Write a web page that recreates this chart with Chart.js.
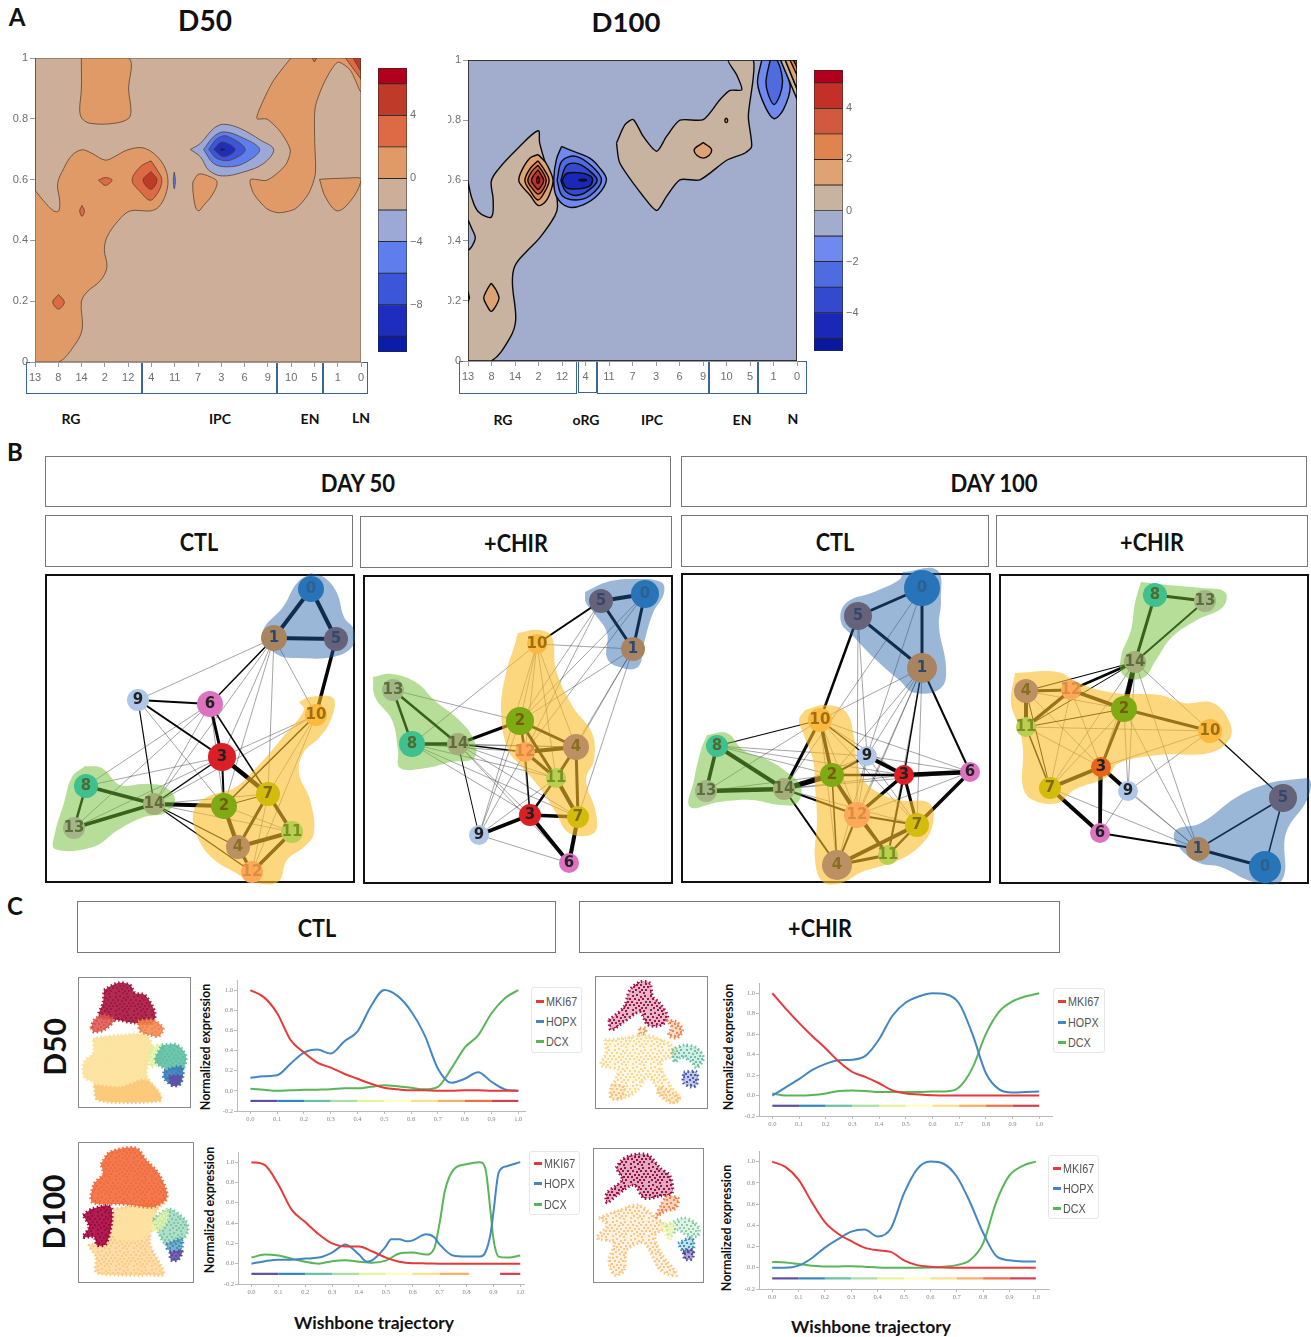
<!DOCTYPE html>
<html>
<head>
<meta charset="utf-8">
<script src="https://cdn.jsdelivr.net/npm/chart.js@4"></script>
<style>
body { margin: 0; background: #fff; }
#page { position: relative; width: 1311px; height: 1337px; overflow: hidden; font-family: Lato, sans-serif; }
#page canvas { position: absolute; filter: blur(0.35px); }
.t { position: absolute; font-weight: 700; color: #111; white-space: nowrap; transform: translate(-50%, -50%); }
.rot { transform: translate(-50%, -50%) rotate(-90deg); }
.narrow { transform: translate(-50%, -50%) scaleX(0.9); }
.box { position: absolute; box-sizing: border-box; background: #fff; }
.head { border: 1px solid #777; }
.clu { border: 1.5px solid #3a6595; }
.legend { position: absolute; box-sizing: border-box; border: 1px solid #e6e6e6; border-radius: 3px; background: #fff; }
.legend div { position: absolute; left: 14px; font: 13px "Liberation Sans", sans-serif; color: #555; transform: translateY(-50%) scaleX(0.83); transform-origin: left center; }
.legend i { position: absolute; left: 4px; width: 8px; height: 2.5px; }
</style>
</head>
<body>
<div id="page"></div>
<script>
// panel A: cluster order on the x axis, contour level bands
const d50Order = [13, 8, 14, 2, 12, 4, 11, 7, 3, 6, 9, 10, 5, 1, 0];
const d100Order = [13, 8, 14, 2, 12, 4, 11, 7, 3, 6, 9, 10, 5, 1, 0];
const probTicks = [0, 0.2, 0.4, 0.6, 0.8, 1];
const clusterTicks = [0, 1, 2, 3, 4, 5, 6, 7, 8, 9, 10, 11, 12, 13, 14];

const d50Bands = [7, 6, 4, 2, 0, -2, -4, -6, -8, -10, -11];
const d50BandColors = ['#b0001e', '#c03a2a', '#dd6a45', '#e09a68', '#cdae98', '#9ca9d6', '#5e7eee', '#3b56d8', '#1e2dbe', '#0a1ca8'];
const d50BarTicks = [4, 0, -4, -8];
const d100Bands = [5.5, 5, 4, 3, 2, 1, 0, -1, -2, -3, -4, -5, -5.5];
const d100BandColors = ['#b0001e', '#c43028', '#d1593d', '#e0844f', '#dfa273', '#c8b2a0', '#a2adcd', '#7089ef', '#4e6be0', '#3349ce', '#1a28b8', '#0a18a0'];
const d100BarTicks = [4, 2, 0, -2, -4];

// contour outlines, [cluster position, probability]
const d50Whole = [[0,0],[14,0],[14,1],[0,1]];
const d50Left = [[0,.565],[.37,.53],[.8,.497],[1.02,.497],[1.06,.53],[.97,.587],[1.23,.636],[1.59,.68],[2.02,.698],[2.45,.686],[3.02,.664],[3.45,.677],[3.95,.697],[4.59,.705],[5.1,.686],[5.53,.647],[5.71,.598],[5.6,.548],[5.31,.51],[4.95,.497],[4.09,.497],[3.59,.466],[3.09,.411],[2.98,.367],[3.09,.312],[2.81,.268],[2.23,.23],[1.99,.197],[2.03,.109],[1.73,.059],[1.02,0],[0,0]];
const d50Top = [[1.99,1],[4.02,1],[4.02,.895],[4.12,.829],[4.02,.801],[3.38,.785],[2.38,.785],[2.02,.801],[1.92,.829],[1.99,.895]];
const d50Right = [[10.99,1],[10.25,.927],[9.75,.851],[9.53,.801],[9.96,.799],[10.54,.757],[10.96,.697],[10.75,.647],[9.96,.598],[9.25,.6],[9.39,.554],[9.96,.504],[10.46,.491],[11.18,.504],[11.75,.554],[12.04,.62],[12.01,.73],[12.04,.84],[12.47,.927],[13,.986],[13.54,.96],[14,.889],[14,1]];
const d50Tri1 = [[6.78,.592],[7.03,.618],[7.53,.609],[7.82,.592],[7.6,.548],[7.24,.515],[7.03,.497],[6.89,.51],[6.78,.565]];
const d50Tri2 = [[12.22,.601],[13.4,.605],[14,.601],[13.68,.543],[13,.497],[12.47,.543]];
const d50Corner1 = [[13.33,1],[14,1],[14,.93]];
const d50Corner2 = [[13.66,1],[14,1],[14,.955]];
const d50TopDot = [[11.9,1],[12.1,1],[12,.987]];
const d50Red1 = [[4.98,.662],[5.3,.625],[5.45,.598],[5.3,.56],[4.95,.532],[4.52,.56],[4.17,.598],[4.52,.642]];
const d50Red2 = [[4.98,.627],[5.24,.598],[4.98,.568],[4.64,.598]];
const d50Spot1 = [[2.73,.598],[3.02,.607],[3.31,.598],[3.02,.581]];
const d50Spot2 = [[2.02,.515],[2.12,.497],[2.02,.479],[1.92,.497]];
const d50Spot3 = [[1.01,.222],[1.26,.197],[1.01,.174],[.76,.197]];
const d50Sliver = [[5.98,.625],[6.03,.597],[5.98,.57],[5.94,.597]];
const d50Blue1 = [[6.67,.699],[7.1,.719],[7.67,.768],[8.1,.782],[8.82,.768],[9.68,.73],[10.25,.699],[9.82,.653],[8.96,.625],[8.03,.612],[7.46,.631],[7.1,.675]];
const d50Blue2 = [[7.24,.699],[7.67,.741],[8.1,.757],[8.82,.741],[9.65,.699],[8.96,.653],[8.25,.642],[7.67,.653]];
const d50Blue3 = [[7.46,.699],[7.82,.735],[8.25,.743],[9.03,.699],[8.39,.664],[7.82,.669]];
const d50Blue4 = [[7.67,.699],[8.03,.724],[8.6,.699],[8.1,.675]];
const d50Blue5 = [[7.89,.699],[8.03,.705],[8.2,.699],[8.03,.692]];

const d100Whole = [[0,0],[14,0],[14,1],[0,1]];
const d100LeftTan = [[0,.597],[.14,.547],[.43,.497],[.99,.478],[1.07,.536],[.99,.597],[1.28,.636],[2.06,.702],[2.98,.765],[3.05,.724],[3.34,.647],[3.69,.575],[3.81,.514],[3.69,.481],[3.05,.409],[2.49,.364],[1.99,.315],[1.89,.259],[2.03,.137],[1.78,.076],[.99,0],[0,0]];
const d100Notch = [[0,.469],[.16,.44],[.31,.41],[.16,.38],[0,.37]];
const d100Nick = [[0,.232],[.06,.21],[0,.195]];
const d100RightTan = [[6.32,.724],[6.68,.785],[7.03,.802],[7.46,.746],[8.03,.697],[8.45,.746],[9.02,.8],[10.01,.802],[10.72,.868],[11.15,.899],[11.65,.901],[11.43,.951],[11.08,1],[12.14,1],[11.93,.813],[12.07,.713],[11.79,.691],[11.01,.667],[9.87,.602],[9.02,.602],[8.45,.547],[8.03,.5],[7.46,.547],[6.46,.658]];
const d100Peak1 = [[2.98,.686],[3.3,.66],[3.5,.63],[3.62,.6],[3.5,.56],[3.3,.53],[2.98,.517],[2.65,.55],[2.3,.58],[2.16,.6],[2.3,.635],[2.65,.675]];
const d100Peak2 = [[2.98,.665],[3.25,.635],[3.45,.6],[3.25,.56],[2.98,.535],[2.65,.565],[2.42,.6],[2.65,.64]];
const d100Peak3 = [[2.98,.65],[3.2,.625],[3.33,.6],[3.2,.57],[2.98,.555],[2.72,.575],[2.55,.6],[2.72,.63]];
const d100Peak4 = [[2.98,.635],[3.12,.617],[3.22,.6],[3.12,.582],[2.98,.57],[2.82,.583],[2.7,.6],[2.82,.62]];
const d100Peak5 = [[2.98,.615],[3.05,.602],[2.98,.59],[2.92,.602]];
const d100Blue1 = [[3.98,.713],[4.47,.697],[5.18,.674],[5.61,.641],[5.89,.602],[5.54,.553],[4.9,.519],[4.26,.512],[3.76,.547],[3.65,.602],[3.76,.669]];
const d100Blue2 = [[3.79,.6],[4,.665],[4.6,.68],[5.3,.645],[5.68,.6],[5.2,.55],[4.6,.535],[4,.55]];
const d100Blue3 = [[3.95,.6],[4.2,.65],[4.7,.655],[5.2,.63],[5.5,.6],[5.1,.565],[4.6,.55],[4.15,.565]];
const d100Blue4 = [[4,.6],[4.2,.623],[4.8,.625],[5.2,.615],[5.3,.6],[5.15,.58],[4.7,.572],[4.2,.575]];
const d100Blue5 = [[4.7,.601],[4.9,.604],[5.05,.601],[4.9,.598]];
const d100Spot1 = [[.99,.259],[1.2,.235],[1.32,.209],[1.2,.185],[.99,.165],[.8,.185],[.67,.209],[.8,.235]];
const d100Spot2 = [[10.01,.726],[10.37,.7],[10.01,.674],[9.62,.7]];
const d100Spot3 = [[10.99,.808],[11.05,.8],[10.99,.792],[10.93,.8]];
const d100Top1 = [[12.5,1],[12.32,.924],[12.64,.846],[13.03,.805],[13.42,.835],[13.71,.912],[13.42,.979],[13.28,1]];
const d100Top2 = [[12.86,1],[12.68,.929],[12.78,.885],[13.03,.852],[13.28,.885],[13.38,.935],[13.14,1]];
const d100CornerTan = [[13.3,1],[13.5,1],[14,.904],[14,.87]];
const d100Corner1 = [[13.5,1],[14,1],[14,.904]];
const d100Corner2 = [[13.7,1],[14,1],[14,.95]];
const d100Corner3 = [[13.85,1],[14,1],[14,.975]];

// panel B: PAGA graphs, node position and size by cluster id 0..14, edges [from, to, weight]
const clusterIds = ['0','1','2','3','4','5','6','7','8','9','10','11','12','13','14'];
const nodeColors = ['#2874b8','#a98460','#7eab12','#dc1f26','#bd9064','#666279','#dd72c2','#d4bc0c','#3ec08f','#aec7e8','#fcb93e','#b9cf4e','#ffa858','#a4b58a','#a5ad78'];
const labelColors = ['#2f5f8f','#2c4a70','#7a5a10','#222222','#87701f','#34486f','#222222','#7f6a10','#506b30','#222222','#9a7010','#7c8f26','#d98d40','#5a7038','#5e6c3b'];

const g1X = [266,229,179,177,193,291,165,223,41,93,271,247,207,29,109];
const g1Y = [15,64,232,183,273,65,130,220,212,126,141,258,298,254,230];
const g1Size = [13,13,13,14,12,12,13,12,12,11,11,11,11,11,11];
const g1Edges = [[0,1,4],[0,5,4],[1,5,4],[5,10,3.5],[1,6,1.5],[9,6,2],[9,3,2],[6,3,3],[3,7,4.5],[3,14,1.5],[3,2,2],[14,2,4],[8,14,3.5],[13,14,3.5],[8,13,2.5],[2,4,4],[7,4,3],[7,11,3.5],[4,11,4],[4,12,3],[11,12,3.5],[2,7,1],[6,7,1.5],[9,14,1.2],[14,4,1.2],[14,12,1.2],[10,2,1.5],
  [1,9,.8],[1,3,.8],[1,14,.8],[1,2,.8],[1,10,.8],[1,7,.8],[6,8,.8],[6,13,.8],[6,14,.8],[6,2,.8],[9,2,.8],[3,8,.8],[3,10,.8],[14,10,.8],[14,7,.8],[14,11,.8],[2,11,.8],[10,7,.8],[10,12,.8],[2,12,.8],[7,12,.8],[3,13,.8]];
const g1Blue = [[266,-1],[280,4],[292,19],[299,43],[309,56],[307,73],[288,83],[254,84],[233,81],[219,66],[219,54],[238,33],[252,9]];
const g1Green = [[40,192],[57,194],[75,211],[99,210],[120,213],[130,226],[120,239],[99,243],[73,256],[48,273],[10,275],[10,259],[19,229],[27,203]];
const g1Yellow = [[254,128],[265,123],[288,124],[287,143],[275,163],[259,178],[254,199],[265,226],[269,259],[259,273],[242,286],[233,308],[208,308],[191,299],[166,283],[151,259],[149,236],[162,223],[191,213],[212,193],[238,163],[259,136]];

const g2X = [282,270,157,167,213,238,206,215,49,116,174,193,162,30,95];
const g2Y = [19,74,146,240,172,26,288,242,169,260,69,203,177,115,169];
const g2Size = [14,12,14,11,13,12,10,11,13,10,10,10,10,11,11];
const g2Edges = [[0,5,4],[0,1,3],[5,1,3],[5,10,2],[13,8,2.5],[13,14,2.5],[8,14,3.5],[14,2,3],[2,4,3],[2,12,2.5],[12,4,4],[2,11,3],[12,11,3],[4,11,3],[4,7,3],[11,7,4],[11,3,2.5],[3,7,3.5],[3,9,3.5],[3,6,4],[7,6,4],[12,3,1.5],[14,9,1],[14,12,1.5],
  [10,1,.8],[13,2,.8],[8,10,.8],[9,6,.8],[9,12,.8],[9,2,.8],[9,10,.8],[9,11,.8],[8,12,.8],[8,3,.8],[8,11,.8],[8,7,.8],[14,3,.8],[14,11,.8],[14,7,.8],[14,4,.8],[14,6,.8],[8,4,.8],[10,2,.8],[10,4,.8],[10,11,.8],[5,2,.8],[5,12,.8],[1,2,.8],[1,4,.8],[1,11,.8],[1,7,.8],[0,2,.8],[0,12,.8],[10,12,.8],[2,3,.8],[4,3,.8]];
const g2Blue = [[222,17],[244,7],[269,4],[298,7],[301,18],[290,38],[281,68],[275,92],[256,92],[244,83],[244,58],[231,38],[223,28]];
const g2Green = [[10,102],[29,99],[54,108],[71,125],[96,145],[111,165],[111,183],[88,187],[63,193],[37,193],[35,175],[29,145],[12,122]];
const g2Yellow = [[155,58],[176,55],[189,62],[193,95],[210,132],[229,158],[231,185],[223,205],[233,238],[231,258],[206,258],[193,238],[176,212],[159,192],[145,175],[138,135],[143,98],[151,72]];

const g3X = [241,241,151,223,156,177,289,236,36,186,139,207,176,25,103];
const g3Y = [15,95,202,202,292,43,199,252,173,183,147,282,242,218,216];
const g3Size = [18,15,12,10,15,14,10,12,11,10,12,10,13,11,11];
const g3Edges = [[0,5,3],[0,1,3],[5,1,3],[5,10,2.5],[1,6,2],[1,3,1.5],[10,8,1.2],[10,14,3],[10,2,3.5],[10,9,1.5],[8,13,3.5],[8,14,4],[13,14,4.5],[14,2,5],[14,4,2],[14,12,2],[2,3,2.5],[2,9,2],[9,3,4],[3,6,4.5],[2,12,3.5],[12,3,3.5],[12,7,2],[3,7,3],[7,6,3.5],[3,11,2],[4,7,4],[4,11,3],[7,11,2.5],[2,4,1.5],[12,4,2],[12,11,3],[2,11,1.5],
  [1,10,.8],[1,2,.8],[1,9,.8],[1,12,.8],[1,7,.8],[1,11,.8],[1,4,.8],[0,9,.8],[0,14,.8],[5,9,.8],[5,12,.8],[8,2,.8],[8,9,.8],[8,3,.8],[13,10,.8],[13,2,.8],[10,6,.8],[10,7,.8],[10,12,.8],[14,9,.8],[14,3,.8],[14,6,.8],[14,7,.8],[9,6,.8],[9,12,.8],[9,7,.8],[9,4,.8],[6,12,.8],[6,11,.8],[10,3,.8],[10,4,.8]];
const g3Blue = [[222,-1],[256,-3],[260,27],[258,54],[265,94],[260,115],[234,120],[218,107],[193,85],[173,64],[160,49],[165,30],[193,19],[218,7]];
const g3Green = [[26,162],[46,160],[62,177],[87,187],[107,200],[120,214],[116,230],[99,232],[71,227],[38,229],[9,234],[13,207],[20,177]];
const g3Yellow = [[124,137],[144,132],[165,139],[173,164],[177,194],[189,214],[218,227],[248,230],[252,250],[242,270],[218,287],[181,299],[160,310],[142,309],[134,287],[136,247],[134,214],[132,187],[122,160],[118,147]];

const g4X = [266,199,125,102,27,284,101,51,156,129,211,27,72,206,136];
const g4Y = [293,275,135,193,117,224,259,214,21,217,157,153,116,27,88];
const g4Size = [16,12,13,10,12,14,10,11,12,10,12,10,10,11,11];
const g4Edges = [[8,13,3],[8,14,3],[13,14,2],[14,2,5],[14,4,1.2],[14,12,2.5],[14,11,1],[4,12,3],[4,11,4],[12,11,3.5],[12,2,3.5],[2,10,3],[2,3,3],[2,11,1],[3,7,4],[3,9,4],[3,6,3.5],[7,6,4],[7,11,1.5],[4,7,1],[6,1,2],[1,0,3],[1,5,1.5],[5,0,1.5],[10,5,1.2],
  [14,10,.8],[14,9,.8],[14,3,.8],[14,1,.8],[14,7,.8],[2,1,.8],[2,9,.8],[2,4,.8],[2,7,.8],[10,3,.8],[10,9,.8],[9,1,.8],[9,6,.8],[7,1,.8],[12,3,.8],[12,7,.8],[4,3,.8],[11,3,.8],[11,10,.8],[3,1,.8]];
const g4Green = [[142,8],[169,11],[202,14],[226,18],[224,33],[198,46],[173,63],[157,86],[144,104],[124,101],[122,83],[132,56],[136,29]];
const g4Yellow = [[16,99],[59,98],[79,109],[116,119],[161,121],[185,129],[214,129],[231,149],[230,166],[210,179],[161,181],[120,189],[108,203],[75,216],[59,229],[34,226],[24,213],[24,176],[20,153],[12,129]];
const g4Blue = [[298,205],[311,206],[308,226],[287,259],[283,306],[255,308],[222,293],[198,288],[177,269],[177,256],[202,249],[238,223],[271,209]];

// panel C: gene expression along the trajectory
const genes = ['MKI67', 'HOPX', 'DCX'];
const geneColors = ['#e8393a', '#4287c4', '#58b558'];
const grid = [0,.05,.1,.15,.2,.25,.3,.35,.4,.45,.5,.55,.6,.65,.7,.75,.8,.85,.9,.95,1];
const trajTicks = [0,.1,.2,.3,.4,.5,.6,.7,.8,.9,1];
const exprTicks = [-.2,0,.2,.4,.6,.8,1];

const d50CtlMki = [1,.93,.77,.505,.38,.28,.23,.17,.12,.07,.03,.015,.005,.005,0,0,.005,.005,0,0,0];
const d50CtlHopx = [.13,.145,.155,.27,.38,.41,.37,.49,.59,.84,1,.94,.79,.555,.22,.08,.12,.185,.09,.015,0];
const d50CtlDcx = [.02,.01,0,.005,.01,.012,.015,.025,.025,.04,.055,.045,.03,.015,.04,.22,.43,.55,.77,.92,1];

const d50ChirMki = [1,.85,.71,.58,.46,.33,.23,.18,.12,.05,.02,.01,.003,0,0,0,0,0,0,0,0];
const d50ChirHopx = [0,.08,.16,.25,.31,.345,.35,.39,.55,.78,.91,.97,1,.99,.9,.6,.22,.06,.03,.035,.04];
const d50ChirDcx = [.02,0,0,.005,.02,.045,.05,.045,.035,.035,.035,.035,.04,.04,.08,.27,.6,.82,.92,.97,1];

const d100CtlMki = [1,.97,.78,.53,.41,.29,.2,.17,.17,.12,.06,.02,.005,.003,0,0,0,0,0,0,0];
const d100CtlHopxX = [0,.05,.1,.15,.2,.25,.3,.35,.4,.43,.45,.5,.52,.55,.58,.6,.65,.68,.7,.75,.8,.85,.87,.89,.9,.92,.95,1];
const d100CtlHopx = [0,.025,.04,.04,.05,.06,.11,.19,.09,.02,.035,.17,.24,.24,.22,.23,.29,.26,.19,.08,.07,.07,.11,.3,.5,.9,.96,1];
const d100CtlDcxX = [0,.05,.1,.15,.2,.25,.3,.35,.4,.45,.5,.55,.6,.65,.68,.7,.72,.75,.8,.85,.87,.89,.9,.92,.95,1];
const d100CtlDcx = [.06,.09,.08,.05,.02,0,.025,.035,.02,.01,.03,.1,.11,.09,.15,.4,.72,.92,.98,1,.94,.5,.25,.07,.06,.08];

const d100ChirMki = [1,.95,.83,.62,.43,.32,.25,.19,.165,.15,.07,.025,.01,.003,0,0,0,0,0,0,0];
const d100ChirHopx = [0,0,.02,.09,.19,.27,.34,.36,.295,.37,.7,.93,1,.98,.86,.62,.33,.11,.07,.06,.06];
const d100ChirDcx = [.055,.05,.035,.02,.012,.012,.015,.01,.002,0,0,0,.003,.01,.025,.07,.23,.62,.87,.96,1];

// colour bar under each plot, pseudotime position and its colour
const stripeX = [0,.1,.2,.3,.4,.5,.6,.7,.8,.9,1];
const stripeColors = ['#5e4fa2','#3288bd','#66c2a5','#abdda4','#e6f598','#ffffbf','#fee08b','#fdae61','#f46d43','#d53e4f','#9e0142'];
const d100CtlStripeA = [0,.1,.2,.3,.4,.5,.6,.7,.81];
const d100CtlStripeB = [.925,1];

// UMAP thumbnails as outlined cell regions, frame coordinates
const u1Crimson = [[26,13],[40,6],[52,8],[57,16],[67,18],[77,36],[74,46],[57,46],[40,43],[21,39],[25,26]];
const u1RedL = [[13,51],[16,43],[25,38],[36,43],[26,53],[16,55]];
const u1OrangeR = [[60,44],[75,43],[85,51],[81,59],[72,58],[62,54]];
const u1Yellow = [[15,61],[43,58],[67,58],[74,68],[71,83],[69,99],[81,116],[82,123],[60,124],[20,123],[16,106],[6,100],[6,85],[15,76]];
const u1Lower = [[16,108],[43,110],[67,103],[81,116],[82,124],[20,123]];
const u1Lime = [[71,71],[84,68],[84,83],[74,90],[71,83]];
const u1Teal = [[84,68],[99,68],[108,79],[104,93],[84,90],[77,83]];
const u1Blue = [[86,93],[104,90],[103,106],[94,108],[86,101]];
const u1Purple = [[91,99],[103,99],[101,108],[93,108]];

const u2Crimson = [[14,44],[29,31],[35,14],[45,6],[55,7],[58,21],[65,27],[73,41],[67,49],[53,49],[45,36],[29,46],[16,54]];
const u2Orange = [[72,44],[82,46],[88,54],[82,62],[74,59],[77,51]];
const u2Bit = [[45,52],[51,52],[50,57],[44,57]];
const u2Yellow = [[10,64],[29,62],[50,59],[67,64],[80,72],[75,82],[68,84],[67,94],[77,111],[85,122],[80,127],[67,117],[53,101],[43,114],[29,122],[16,122],[19,107],[23,94],[6,89],[11,77]];
const u2Lower = [[16,109],[29,111],[26,122],[16,122]];
const u2Lower2 = [[67,111],[85,122],[77,127],[62,116]];
const u2Teal = [[77,74],[90,69],[102,72],[109,82],[102,92],[97,86],[87,81],[80,86]];
const u2Purple = [[89,96],[102,96],[102,109],[97,111],[89,107]];

const u3Orange = [[23,22],[32,10],[58,6],[68,18],[81,32],[89,55],[75,65],[54,63],[40,62],[14,60],[16,42],[25,32]];
const u3Warm = [[35,67],[58,63],[89,57],[79,68],[74,85],[72,102],[86,132],[72,133],[37,133],[18,130],[18,115],[11,103],[26,102],[32,85]];
const u3Pale = [[37,68],[75,67],[74,88],[58,98],[37,95]];
const u3Crimson = [[5,73],[14,67],[32,64],[34,78],[28,102],[19,103],[16,95],[5,95],[11,85]];
const u3Teal = [[75,77],[91,67],[107,78],[110,88],[104,98],[88,102],[81,92]];
const u3Lime = [[74,83],[88,68],[89,77],[81,88],[75,88]];
const u3Blue = [[88,102],[104,97],[102,110],[90,108]];
const u3Purple = [[92,110],[104,109],[100,118],[93,118]];

const u4Crimson = [[23,20],[29,12],[39,7],[55,7],[67,20],[77,28],[79,45],[68,48],[51,50],[41,37],[24,47],[14,55],[14,45],[29,32]];
const u4Orange = [[73,48],[85,50],[83,60],[72,63],[63,69],[68,57]];
const u4Warm = [[6,70],[24,63],[45,57],[63,70],[72,78],[62,88],[68,105],[84,127],[68,123],[51,95],[34,102],[31,123],[21,127],[16,112],[21,95],[4,90],[14,77]];
const u4Teal = [[73,77],[92,70],[105,78],[105,88],[95,88],[85,82],[77,88]];
const u4Pale = [[68,77],[80,75],[77,92],[72,85]];
const u4Blue = [[85,95],[99,90],[100,103],[90,103]];
const u4Purple = [[90,103],[100,102],[99,111],[92,111]];

const page = document.getElementById('page');

function text(s, x, y, size, cls) {
    let d = document.createElement('div');
    d.className = 't ' + (cls || '');
    d.style.left = x + 'px';
    d.style.top = y + 'px';
    d.style.fontSize = size + 'px';
    d.textContent = s;
    page.appendChild(d);
    return d;
}

function box(cls, l, t, r, b, label, size) {
    let d = document.createElement('div');
    d.className = 'box ' + cls;
    d.style.left = l + 'px';
    d.style.top = t + 'px';
    d.style.width = (r - l) + 'px';
    d.style.height = (b - t) + 'px';
    page.appendChild(d);
    if (label) text(label, (l + r) / 2, (t + b) / 2, size, 'narrow');
    return d;
}

function canvas(l, t, w, h) {
    let c = document.createElement('canvas');
    c.width = w;
    c.height = h;
    c.style.left = l + 'px';
    c.style.top = t + 'px';
    c.style.width = w + 'px';
    c.style.height = h + 'px';
    page.appendChild(c);
    return c;
}

function pts(list) {
    return list.map(p => ({x: p[0], y: p[1]}));
}

// closed outline
function ring(list) {
    return pts(list.concat([list[0]]));
}

// chart.js paints the first dataset on top, the lists here run bottom to top
function stacked(list) {
    list.forEach((d, i) => { d.order = list.length - i; });
    return list;
}

// tick labels would otherwise push the plot area in
function noPad(s) {
    s.paddingTop = s.paddingBottom = s.paddingLeft = s.paddingRight = 0;
}

const baseOpts = {
    responsive: false,
    animation: false,
    events: [],
    plugins: {legend: {display: false}, tooltip: {enabled: false}}
};

// contour map with its axes
function contour(l, t, r, b, marginLeft, order, layers, line, lineWidth) {
    let datasets = layers.map(a => ({
        type: 'scatter',
        data: ring(a[0]),
        showLine: true,
        fill: 'shape',
        backgroundColor: a[1],
        borderColor: line,
        borderWidth: lineWidth,
        tension: a[2] === undefined ? 0.35 : a[2],
        pointRadius: 0
    }));
    new Chart(canvas(l - marginLeft, t - 6, r - l + marginLeft + 10, b - t + 6 + 26), {
        type: 'scatter',
        data: {datasets: stacked(datasets)},
        options: Object.assign({}, baseOpts, {
            layout: {autoPadding: false, padding: {top: 6, right: 10, left: 0, bottom: 0}},
            scales: {
                x: {
                    type: 'linear', min: 0, max: 14,
                    afterBuildTicks: s => { s.ticks = clusterTicks.map(v => ({value: v})); },
                    afterFit: s => { s.height = 26; noPad(s); },
                    grid: {drawOnChartArea: false, tickLength: 5, color: '#999'},
                    border: {color: '#999'},
                    ticks: {autoSkip: false, maxRotation: 0, padding: 4, color: '#6e6e6e',
                        font: {family: 'Liberation Sans', size: 11}, callback: v => order[v]}
                },
                y: {
                    type: 'linear', min: 0, max: 1,
                    afterBuildTicks: s => { s.ticks = probTicks.map(v => ({value: v})); },
                    afterFit: s => { s.width = marginLeft; noPad(s); },
                    grid: {drawOnChartArea: false, tickLength: 5, color: '#999'},
                    border: {color: '#999'},
                    ticks: {padding: 2, color: '#6e6e6e',
                        font: {family: 'Liberation Sans', size: 11}, callback: v => String(v)}
                }
            }
        })
    });
}

function colorbar(l, t, r, b, bands, colors, tickVals) {
    let datasets = colors.map((c, i) => ({
        data: [[bands[i + 1], bands[i]]],
        backgroundColor: c,
        borderColor: '#2a2a2a',
        borderWidth: 0.8,
        borderSkipped: false,
        barPercentage: 1,
        categoryPercentage: 1,
        grouped: false
    }));
    new Chart(canvas(l, t, r - l + 30, b - t), {
        type: 'bar',
        data: {labels: [''], datasets: datasets},
        options: Object.assign({}, baseOpts, {
            layout: {autoPadding: false, padding: 0},
            scales: {
                x: {display: false},
                y: {
                    position: 'right',
                    min: bands[bands.length - 1], max: bands[0],
                    afterBuildTicks: s => { s.ticks = tickVals.map(v => ({value: v})); },
                    afterFit: s => { s.width = 30; noPad(s); },
                    grid: {display: false, drawTicks: false},
                    border: {display: false},
                    ticks: {padding: 3, color: '#6e6e6e', font: {family: 'Liberation Sans', size: 11},
                        callback: v => v < 0 ? '\u2212' + Math.abs(v) : String(v)}
                }
            }
        })
    });
}

const hullBlue = 'rgba(31,95,168,0.45)';
const hullGreen = 'rgba(110,190,50,0.5)';
const hullYellow = 'rgba(250,188,40,0.6)';

// PAGA graph inside a black frame
function network(l, t, r, b, xs, ys, size, edges, hulls, swap) {
    let f = box('', l, t, r, b);
    f.style.border = '2.5px solid #111';
    let w = r - l, h = b - t, m = 14;
    let list = edges.map(e => ({
        type: 'scatter',
        data: [{x: xs[e[0]], y: ys[e[0]]}, {x: xs[e[1]], y: ys[e[1]]}],
        showLine: true,
        borderColor: e[2] < 1 ? 'rgba(30,30,30,0.5)' : '#050505',
        borderWidth: e[2],
        pointRadius: 0
    }));
    hulls.forEach(a => list.push({
        type: 'scatter',
        data: ring(a[0]),
        showLine: true,
        fill: 'shape',
        backgroundColor: a[1],
        borderWidth: 0,
        tension: 0.4,
        pointRadius: 0
    }));
    let colors = nodeColors.map((c, i) => (swap && swap[i]) || c);
    list.push({
        type: 'scatter',
        data: xs.map((x, i) => ({x: x, y: ys[i]})),
        pointRadius: size,
        pointBackgroundColor: colors,
        pointBorderWidth: 0,
        showLine: false
    });
    new Chart(canvas(l - m, t - m, w + 2 * m, h + 2 * m), {
        type: 'scatter',
        data: {datasets: stacked(list)},
        options: Object.assign({}, baseOpts, {
            layout: {autoPadding: false, padding: 0},
            scales: {
                x: {display: false, type: 'linear', min: -m, max: w + m},
                y: {display: false, type: 'linear', min: -m, max: h + m, reverse: true}
            }
        }),
        plugins: [{
            id: 'nodeLabels',
            afterDatasetsDraw(chart) {
                let c = chart.ctx;
                c.save();
                c.font = 'bold 15px "DejaVu Sans", sans-serif';
                c.textAlign = 'center';
                c.textBaseline = 'middle';
                xs.forEach((x, i) => {
                    c.fillStyle = labelColors[i];
                    c.fillText(clusterIds[i], chart.scales.x.getPixelForValue(x), chart.scales.y.getPixelForValue(ys[i]));
                });
                c.restore();
            }
        }]
    });
}

function curve(xs, ys, color) {
    return {
        type: 'line',
        data: xs.map((x, i) => ({x: x, y: ys[i]})),
        borderColor: color,
        borderWidth: 2,
        pointRadius: 0,
        cubicInterpolationMode: 'monotone'
    };
}

function stripe(xs) {
    return {
        type: 'line',
        data: xs.map(x => ({x: x, y: -0.1})),
        borderColor: '#999',
        borderWidth: 2.2,
        pointRadius: 0,
        segment: {borderColor: ctx => stripeColors[Math.min(10, Math.round(ctx.p0.parsed.x * 10))]}
    };
}

// l,r = pixel of the spine and axis end, top and bottom likewise; xMin,xMax = axis limits
function expression(l, t, r, b, xMin, xMax, series, stripes) {
    let mL = 18, mB = 16, mT = 3, mR = 8;
    let list = stripes.map(stripe).concat(series);
    new Chart(canvas(l - mL, t - mT, r - l + mL + mR, b - t + mT + mB), {
        type: 'line',
        data: {datasets: list},
        options: Object.assign({}, baseOpts, {
            layout: {autoPadding: false, padding: {top: mT, right: mR, left: 0, bottom: 0}},
            scales: {
                x: {
                    type: 'linear', min: xMin, max: xMax,
                    afterBuildTicks: s => { s.ticks = trajTicks.map(v => ({value: v})); },
                    afterFit: s => { s.height = mB; noPad(s); },
                    grid: {drawOnChartArea: false, tickLength: 3, color: '#bbb'},
                    border: {color: '#bbb'},
                    ticks: {autoSkip: false, maxRotation: 0, padding: 1, color: '#888',
                        font: {family: 'Liberation Sans Narrow', size: 6.5}, callback: v => v.toFixed(1)}
                },
                y: {
                    type: 'linear', min: -0.2, max: 1.1,
                    afterBuildTicks: s => { s.ticks = exprTicks.map(v => ({value: v})); },
                    afterFit: s => { s.width = mL; noPad(s); },
                    grid: {drawOnChartArea: false, tickLength: 3, color: '#bbb'},
                    border: {color: '#bbb'},
                    ticks: {padding: 1, color: '#888',
                        font: {family: 'Liberation Sans Narrow', size: 6.5}, callback: v => v.toFixed(1)}
                }
            }
        })
    });
}

function geneLegend(l, t, r, b, rows) {
    let d = document.createElement('div');
    d.className = 'legend';
    d.style.left = l + 'px';
    d.style.top = t + 'px';
    d.style.width = (r - l) + 'px';
    d.style.height = (b - t) + 'px';
    genes.forEach((g, i) => {
        let tag = document.createElement('i');
        tag.style.top = (rows[i] - t - 1) + 'px';
        tag.style.background = geneColors[i];
        d.appendChild(tag);
        let s = document.createElement('div');
        s.style.top = (rows[i] - t) + 'px';
        s.textContent = g;
        d.appendChild(s);
    });
    page.appendChild(d);
}

// dotted fill so a region reads as single cells, alpha = how solid the region is under the dots
const tileDots = [[1,1],[5,0],[9,2],[13,1],[16,4],[3,4],[7,5],[11,4],[14,7],[0,7],[5,8],[9,8],[12,10],[2,10],[7,11],[16,10],[4,13],[10,13],[14,13],[1,15],[8,15],[12,16]];
function cells(color, alpha) {
    let tile = document.createElement('canvas');
    tile.width = 18;
    tile.height = 18;
    let c = tile.getContext('2d');
    c.fillStyle = color;
    c.globalAlpha = alpha;
    c.fillRect(0, 0, 18, 18);
    c.globalAlpha = 1;
    tileDots.forEach(p => c.fillRect(p[0], p[1], 2, 2));
    return c.createPattern(tile, 'repeat');
}

function umap(l, t, r, b, regions) {
    let f = box('', l, t, r, b);
    f.style.border = '1.5px solid #8a8a8a';
    let w = r - l, h = b - t;
    let list = regions.map(a => ({
        type: 'scatter',
        data: ring(a[0]),
        showLine: true,
        fill: 'shape',
        backgroundColor: cells(a[1], a[2]),
        borderColor: a[1],
        borderWidth: 3,
        borderDash: [1.5, 2.5],
        tension: 0.3,
        pointRadius: 0
    }));
    new Chart(canvas(l, t, w, h), {
        type: 'scatter',
        data: {datasets: stacked(list)},
        options: Object.assign({}, baseOpts, {
            layout: {autoPadding: false, padding: 0},
            scales: {
                x: {display: false, type: 'linear', min: 0, max: w},
                y: {display: false, type: 'linear', min: 0, max: h, reverse: true}
            }
        })
    });
}

// ---- panel A ----
text('A', 17, 16, 24);
text('D50', 205, 20, 28);
text('D100', 626, 21, 27.5);

box('clu', 26, 362, 142, 394);
box('clu', 142, 362, 277, 394);
box('clu', 277, 362, 323, 394);
box('clu', 323, 362, 367.5, 394);
box('clu', 458.5, 361, 577, 394);
box('clu', 577.5, 361, 597, 393);
box('clu', 597, 361, 708.5, 394);
box('clu', 708.5, 361, 758, 394);
box('clu', 758, 361, 807, 394);

const tanD50 = '#cdae98', orD50 = '#e09a68', darkOr = '#dd6a45', redD50 = '#c03a2a';
contour(35, 58, 361, 362, 30, d50Order, [
    [d50Whole, tanD50, 0],
    [d50Left, orD50],
    [d50Top, orD50],
    [d50Right, orD50, 0.25],
    [d50Tri1, orD50],
    [d50Tri2, orD50],
    [d50Corner1, darkOr, 0],
    [d50Corner2, redD50, 0],
    [d50TopDot, darkOr, 0],
    [d50Red1, darkOr],
    [d50Red2, redD50],
    [d50Spot1, darkOr],
    [d50Spot2, darkOr],
    [d50Spot3, darkOr],
    [d50Sliver, '#5e7eee'],
    [d50Blue1, '#9ca9d6'],
    [d50Blue2, '#5e7eee'],
    [d50Blue3, '#3b56d8'],
    [d50Blue4, '#1e2dbe'],
    [d50Blue5, '#0a1ca8']
], 'rgba(85,60,45,0.85)', 0.9);
colorbar(377.5, 67.7, 406.5, 352.5, d50Bands, d50BandColors, d50BarTicks);

const tanD100 = '#c8b2a0', blueBg = '#a2adcd', orD100 = '#dfa273';
contour(468, 60, 797, 361, 20, d100Order, [
    [d100Whole, blueBg, 0],
    [d100LeftTan, tanD100],
    [d100Notch, blueBg],
    [d100Nick, blueBg, 0],
    [d100RightTan, tanD100, 0.25],
    [d100Peak1, orD100],
    [d100Peak2, '#e0844f'],
    [d100Peak3, '#d1593d'],
    [d100Peak4, '#c43028'],
    [d100Peak5, '#b0001e', 0.45],
    [d100Blue1, '#7089ef'],
    [d100Blue2, '#4e6be0'],
    [d100Blue3, '#3349ce'],
    [d100Blue4, '#1a28b8'],
    [d100Blue5, '#0a18a0'],
    [d100Spot1, orD100],
    [d100Spot2, orD100, 0.45],
    [d100Spot3, orD100, 0.45],
    [d100Top1, '#7089ef', 0.3],
    [d100Top2, '#4e6be0', 0.3],
    [d100CornerTan, tanD100, 0],
    [d100Corner1, orD100, 0],
    [d100Corner2, '#e0844f', 0],
    [d100Corner3, '#d1593d', 0]
], '#0a0a0a', 1.4);
colorbar(813.5, 69.5, 842.5, 351, d100Bands, d100BandColors, d100BarTicks);

text('RG', 71, 418, 14);
text('IPC', 220, 418, 14);
text('EN', 310, 418, 14);
text('LN', 361, 417, 14);
text('RG', 503, 419, 14);
text('oRG', 586, 419, 14);
text('IPC', 652, 419, 14);
text('EN', 742, 419, 14);
text('N', 793, 418, 14);

// ---- panel B ----
text('B', 15, 451, 24);
box('head', 45, 456, 671, 507, 'DAY 50', 24.5);
box('head', 681, 456, 1307, 507, 'DAY 100', 24.5);
box('head', 45, 515, 353, 567, 'CTL', 24);
box('head', 360, 516, 672, 568, '+CHIR', 24);
box('head', 681, 515, 989, 567, 'CTL', 24);
box('head', 996, 515, 1308, 567, '+CHIR', 24);

network(45, 574, 355, 883, g1X, g1Y, g1Size, g1Edges, [[g1Blue, hullBlue], [g1Green, hullGreen], [g1Yellow, hullYellow]]);
network(363, 575, 673, 884, g2X, g2Y, g2Size, g2Edges, [[g2Blue, hullBlue], [g2Green, hullGreen], [g2Yellow, hullYellow]]);
network(681, 573, 991, 883, g3X, g3Y, g3Size, g3Edges, [[g3Blue, hullBlue], [g3Green, hullGreen], [g3Yellow, hullYellow]]);
network(999, 574, 1309, 884, g4X, g4Y, g4Size, g4Edges, [[g4Green, hullGreen], [g4Yellow, hullYellow], [g4Blue, hullBlue]], {3: '#e8641a'});

// ---- panel C ----
text('C', 15, 905, 24);
box('head', 77, 901, 556, 953, 'CTL', 24);
box('head', 579, 901, 1060, 953, '+CHIR', 24);

text('D50', 54, 1047, 30, 'rot');
text('D100', 53, 1212, 30, 'rot');
text('Normalized expression', 205, 1047, 12.5, 'rot');
text('Normalized expression', 728, 1047, 12.5, 'rot');
text('Normalized expression', 209, 1210, 12.5, 'rot');
text('Normalized expression', 726, 1228, 12.5, 'rot');
text('Wishbone trajectory', 374, 1322, 17.5);
text('Wishbone trajectory', 871, 1326, 17.5);

umap(77.5, 977, 190.5, 1108, [
    [u1Yellow, '#fce29a', 0.9],
    [u1Lower, '#fbc878', 0.9],
    [u1Crimson, '#a5153f', 0.9],
    [u1RedL, '#d9534a', 0.85],
    [u1OrangeR, '#f1824a', 0.85],
    [u1Lime, '#dff09a', 0.7],
    [u1Teal, '#5fbfa5', 0.9],
    [u1Blue, '#3a7fb8', 0.9],
    [u1Purple, '#5e4fa2', 0.9]
]);
umap(594.5, 976, 708, 1109, [
    [u2Yellow, '#fdd686', 0.2],
    [u2Lower, '#fcc178', 0.2],
    [u2Lower2, '#fcc178', 0.2],
    [u2Crimson, '#a5154a', 0.3],
    [u2Orange, '#f2854a', 0.3],
    [u2Bit, '#f2a060', 0.2],
    [u2Teal, '#6cc4a4', 0.3],
    [u2Purple, '#4a5fb0', 0.35]
]);
umap(77.5, 1141.5, 193.5, 1282.5, [
    [u3Warm, '#fccb7f', 0.65],
    [u3Pale, '#fde39b', 0.55],
    [u3Orange, '#f26b3c', 0.9],
    [u3Crimson, '#a5063f', 0.9],
    [u3Teal, '#79c9a5', 0.6],
    [u3Lime, '#e8f49e', 0.5],
    [u3Blue, '#3f8fb8', 0.7],
    [u3Purple, '#5a4aa0', 0.85]
]);
umap(593, 1148, 704, 1283, [
    [u4Warm, '#fdc580', 0.2],
    [u4Crimson, '#a10d47', 0.35],
    [u4Orange, '#f2854a', 0.35],
    [u4Teal, '#8bd0a4', 0.25],
    [u4Pale, '#f5f5a0', 0.3],
    [u4Blue, '#3f96b4', 0.3],
    [u4Purple, '#5b4a9f', 0.5]
]);

expression(236.5, 980, 524.5, 1111, -0.05, 1.025, [
    curve(grid, d50CtlMki, geneColors[0]), curve(grid, d50CtlHopx, geneColors[1]), curve(grid, d50CtlDcx, geneColors[2])
], [stripeX]);
expression(759, 982.5, 1052, 1115.5, -0.05, 1.048, [
    curve(grid, d50ChirMki, geneColors[0]), curve(grid, d50ChirHopx, geneColors[1]), curve(grid, d50ChirDcx, geneColors[2])
], [stripeX]);
expression(238, 1151.5, 524, 1283.5, -0.05, 1.014, [
    curve(grid, d100CtlMki, geneColors[0]), curve(d100CtlHopxX, d100CtlHopx, geneColors[1]), curve(d100CtlDcxX, d100CtlDcx, geneColors[2])
], [d100CtlStripeA, d100CtlStripeB]);
expression(758.5, 1150.5, 1049, 1288.5, -0.05, 1.05, [
    curve(grid, d100ChirMki, geneColors[0]), curve(grid, d100ChirHopx, geneColors[1]), curve(grid, d100ChirDcx, geneColors[2])
], [stripeX]);

geneLegend(530.5, 987, 582, 1053, [1000, 1020, 1040]);
geneLegend(1053, 988, 1105, 1053, [1000, 1021, 1041]);
geneLegend(529, 1151, 580, 1215, [1162, 1182, 1203]);
geneLegend(1048, 1155, 1099, 1219, [1167, 1187, 1207]);
</script>
</body>
</html>
